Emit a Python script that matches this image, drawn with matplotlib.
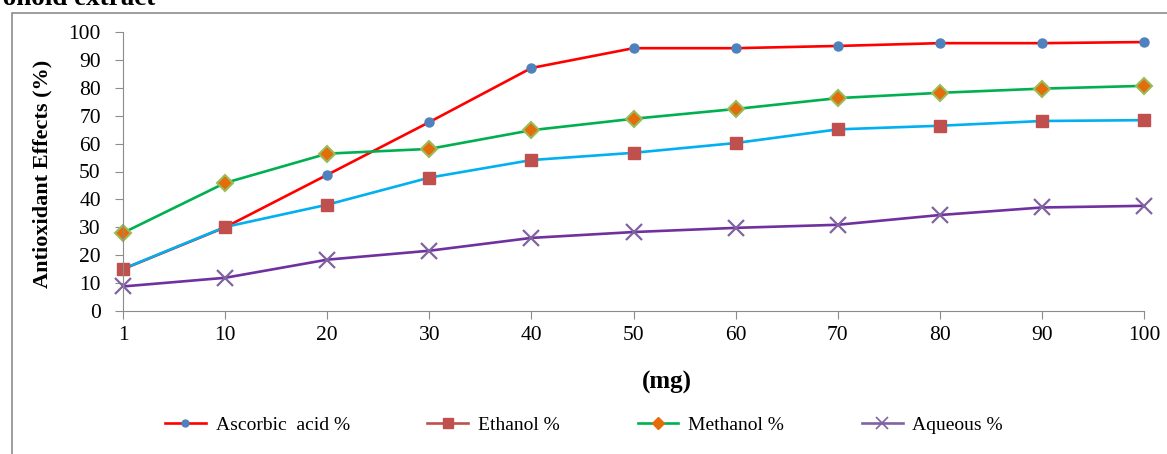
import matplotlib
matplotlib.use('Agg')
from matplotlib import pyplot as plt
from matplotlib.patches import Rectangle
from matplotlib.lines import Line2D

plt.rcParams['font.family'] = ['Liberation Serif', 'DejaVu Serif']

# doses (mg) and antioxidant effect (%) for each extract
doses = ['1', '10', '20', '30', '40', '50', '60', '70', '80', '90', '100']
ascorbic = [15, 30, 48.8, 67.7, 87.1, 94.2, 94.2, 95.0, 96.0, 96.0, 96.4]
ethanol = [15.1, 30.1, 38.1, 47.8, 54.1, 56.7, 60.2, 65.1, 66.4, 68.1, 68.4]
methanol = [28.0, 45.9, 56.4, 58.1, 64.8, 68.9, 72.4, 76.3, 78.2, 79.7, 80.7]
aqueous = [8.8, 11.9, 18.4, 21.6, 26.2, 28.3, 29.8, 30.9, 34.4, 37.1, 37.7]
names = ['Ascorbic  acid %', 'Ethanol %', 'Methanol %', 'Aqueous %']

W, H = 1167, 454
fig = plt.figure(figsize=(W/100, H/100), dpi=100)
ax = fig.add_axes([123/W, 1 - 311/H, (1144 - 123)/W, (311 - 32)/H])

# outer chart border
fig.patches.append(Rectangle((12/W, -0.1), 1.2, 1 - 13/H + 0.1, transform=fig.transFigure,
                             fill=False, edgecolor='#8c8c8c', linewidth=1.2, figure=fig))

x = range(len(doses))
ax.plot(x, ascorbic, color='#ff0000', lw=1.9, marker='o', ms=6.5,
        mfc='#4f81bd', mec='#4f81bd', clip_on=False)
ax.plot(x, ethanol, color='#00b0f0', lw=1.9, marker='s', ms=8.5,
        mfc='#c0504d', mec='#c0504d', clip_on=False)
ax.plot(x, methanol, color='#00b050', lw=1.9, marker='D', ms=8.5,
        mfc='#e46c0a', mec='#9bbb59', mew=1.5, clip_on=False)
ax.plot(x, aqueous, color='#7030a0', lw=1.9, marker='x', ms=12, mew=1.6,
        mec='#8064a2', clip_on=False)

ax.set_xlim(0, len(doses) - 1)
ax.set_ylim(0, 100)
ax.set_yticks(range(0, 101, 10))
ax.set_xticks(list(x))
ax.set_xticklabels(doses)
ax.tick_params(axis='both', direction='out', length=6, color='#8c8c8c',
               labelsize=15.5, labelcolor='black')
ax.tick_params(axis='y', pad=10)
ax.tick_params(axis='x', pad=5)
for s in ['top', 'right']:
    ax.spines[s].set_visible(False)
for s in ['left', 'bottom']:
    ax.spines[s].set_color('#8c8c8c')

ax.set_ylabel('Antioxidant Effects (%)', fontsize=16, fontweight='bold', va='center')
ax.yaxis.set_label_coords((42 - 123)/(1144 - 123), 0.49)
fig.text(667/W, 1 - 382/H, '(mg)', ha='center', va='center', fontsize=18, fontweight='bold')

# legend handles: line and marker colours as in the series
handles = [
    Line2D([], [], color='#ff0000', lw=1.9, marker='o', ms=5, mfc='#4f81bd', mec='#4f81bd'),
    Line2D([], [], color='#c0504d', lw=1.9, marker='s', ms=6.5, mfc='#c0504d', mec='#c0504d'),
    Line2D([], [], color='#00b050', lw=1.9, marker='D', ms=6, mfc='#e46c0a', mec='#e46c0a'),
    Line2D([], [], color='#8064a2', lw=1.9, marker='x', ms=9, mew=1.2, mec='#8064a2'),
]
fig.legend(handles, names, loc='center left', bbox_to_anchor=(165/W, 1 - 425/H),
           ncol=4, frameon=False, fontsize=14, handlelength=2.1,
           columnspacing=4.0, handletextpad=0.5, borderaxespad=0, borderpad=0)

fig.text(155/W, 1 - 5/H, 'flavonoid extract', ha='right', va='baseline',
         fontsize=19.5, fontweight='bold')

fig.savefig('out.png', dpi=100)
